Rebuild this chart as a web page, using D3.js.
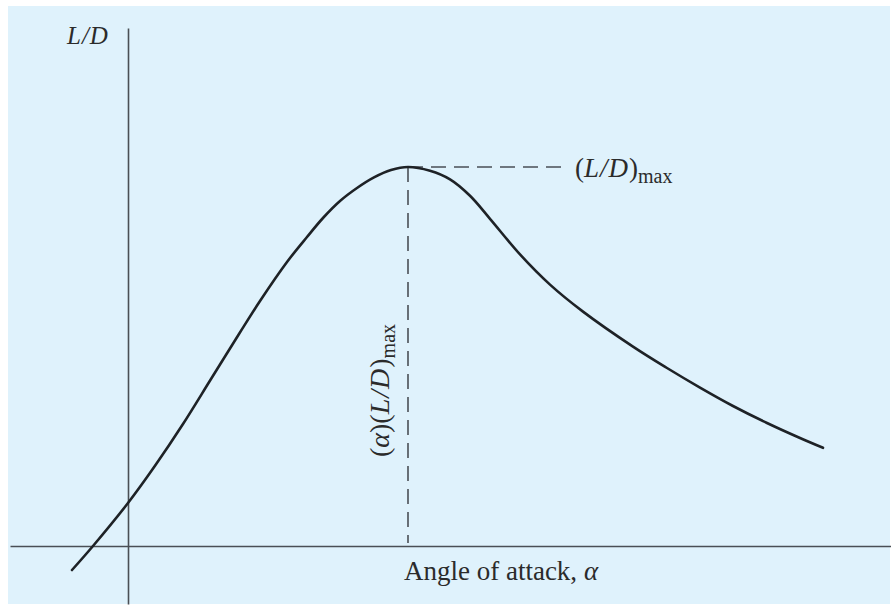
<!DOCTYPE html>
<html>
<head>
<meta charset="utf-8">
<script src="https://cdn.jsdelivr.net/npm/d3@7"></script>
<style>
  html, body { margin: 0; padding: 0; background: #ffffff; }
  svg { display: block; }
  text { font-family: "Liberation Serif", "DejaVu Serif", serif; fill: #2b2b2b; }
</style>
</head>
<body>
<div id="chart"></div>
<script>
// angle of attack (arbitrary units) and L/D
const alpha = [-2.8, -1.75, 0, 1.35, 2.75, 4.15, 5.55, 6.6, 7.95, 8.95, 9.75, 10.6, 11.45, 12.3, 13.15, 14,
               15.1, 16.1, 17.1, 18.1, 19.6, 21.1, 22.75, 25.25, 26.95, 28.6, 30.25, 31.95, 33.6, 34.75];
const ldRatio = [-1.2, 0, 2.15, 4.01, 6.1, 8.35, 10.6, 12.25, 14.2, 15.45, 16.4, 17.25, 17.9, 18.43, 18.8, 18.95,
                 18.76, 18.33, 17.51, 16.36, 14.58, 13.07, 11.72, 9.97, 8.9, 7.92, 7.0, 6.15, 5.4, 4.91];

// where the horizontal dashed guide stops
const dashEndAlpha = 21.85;

const xLabel = "Angle of attack, ";
const yLabel = "L/D";

const width = 891, height = 609;

let svg = d3.select("#chart").append("svg")
    .attr("width", width)
    .attr("height", height);

//light blue panel
svg.append("rect")
    .attr("x", 8).attr("y", 6)
    .attr("width", 882).attr("height", 598)
    .attr("fill", "#dff2fc");

//scales
let x = d3.scaleLinear().domain([-5.9, 38.15]).range([10, 891]);
let y = d3.scaleLinear().domain([-2.9, 25.9]).range([604, 28]);

//axes (plain lines through the origin, no ticks)
svg.append("g")
    .attr("transform", "translate(0," + y(0) + ")")
    .call(d3.axisBottom(x).tickValues([]).tickSizeOuter(0))
    .call(g => g.select(".domain").attr("stroke", "#4a4f55").attr("stroke-width", 1.6));

svg.append("g")
    .attr("transform", "translate(" + x(0) + ",0)")
    .call(d3.axisLeft(y).tickValues([]).tickSizeOuter(0))
    .call(g => g.select(".domain").attr("stroke", "#4a4f55").attr("stroke-width", 1.6));

//peak
let iMax = d3.maxIndex(ldRatio);
let peakA = alpha[iMax], peakLD = ldRatio[iMax];

//dashed guides
svg.append("line")
    .attr("x1", x(peakA)).attr("y1", y(peakLD))
    .attr("x2", x(dashEndAlpha)).attr("y2", y(peakLD))
    .attr("stroke", "#4a4f55").attr("stroke-width", 1.6)
    .attr("stroke-dasharray", "15,8");

svg.append("line")
    .attr("x1", x(peakA)).attr("y1", y(peakLD))
    .attr("x2", x(peakA)).attr("y2", y(0) - 3)
    .attr("stroke", "#4a4f55").attr("stroke-width", 1.6)
    .attr("stroke-dasharray", "15,8");

//the curve
let pts = alpha.map((a, i) => [a, ldRatio[i]]);
svg.append("path")
    .datum(pts)
    .attr("d", d3.line().x(d => x(d[0])).y(d => y(d[1])).curve(d3.curveCatmullRom.alpha(0.5)))
    .attr("fill", "none")
    .attr("stroke", "#1e2226")
    .attr("stroke-width", 2.6)
    .attr("stroke-linecap", "round");

//y label
svg.append("text")
    .attr("x", 67).attr("y", 44)
    .attr("font-size", 25)
    .attr("font-style", "italic")
    .attr("letter-spacing", 1)
    .text(yLabel);

//x label
let xt = svg.append("text")
    .attr("x", 501).attr("y", 580)
    .attr("text-anchor", "middle")
    .attr("font-size", 27);
xt.append("tspan").text(xLabel);
xt.append("tspan").attr("font-style", "italic").text("α");

//(L/D)max label
let lt = svg.append("text")
    .attr("x", x(dashEndAlpha) + 10).attr("y", y(peakLD) + 10)
    .attr("font-size", 27);
lt.append("tspan").text("(");
lt.append("tspan").attr("font-style", "italic").attr("letter-spacing", 1).text("L/D");
lt.append("tspan").text(")");
lt.append("tspan").attr("font-size", 20).attr("dy", 6).text("max");

//rotated label on the vertical dashed line
let rt = svg.append("text")
    .attr("transform", "translate(" + (x(peakA) - 19) + "," + 457 + ") rotate(-90)")
    .attr("font-size", 28);
rt.append("tspan").text("(");
rt.append("tspan").attr("font-style", "italic").text("α");
rt.append("tspan").text(")(");
rt.append("tspan").attr("font-style", "italic").attr("letter-spacing", 1).text("L/D");
rt.append("tspan").text(")");
rt.append("tspan").attr("font-size", 20).attr("dy", 6).text("max");
</script>
</body>
</html>
